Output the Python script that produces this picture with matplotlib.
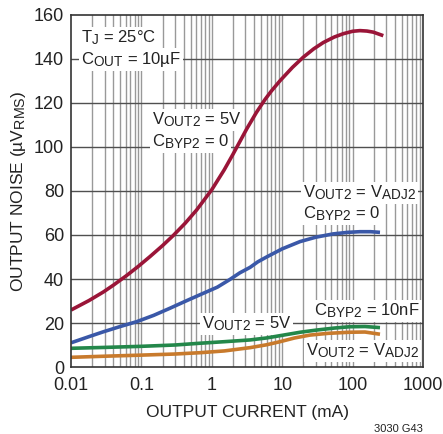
import matplotlib
matplotlib.use('Agg')
import matplotlib.pyplot as plt
import matplotlib._mathtext as mtext
import numpy as np

# bigger subscripts, closer to the datasheet lettering
mtext.SHRINK_FACTOR = 0.82

plt.rcParams['font.family'] = ['Liberation Sans', 'DejaVu Sans']
plt.rcParams['mathtext.fontset'] = 'custom'
plt.rcParams['mathtext.rm'] = 'Liberation Sans'
plt.rcParams['mathtext.it'] = 'Liberation Sans'

# values (current in mA, noise in uVrms)
i_red = [0.01, 0.018, 0.0288, 0.04, 0.0618, 0.09, 0.1325, 0.2, 0.284, 0.42, 0.61, 1.0, 1.5, 2.0,
         3.13, 4.3, 5.7, 7.0, 9.3, 14, 19.9, 28, 38.4, 55, 73.8, 100, 127, 160, 197, 273]
n_red = [25.9, 30.2, 34.1, 37.2, 41.6, 45.7, 50.2, 55.2, 59.8, 65.4, 71.4, 80.6, 89.6, 96.7,
         108.2, 115.7, 121.6, 125.4, 130.1, 136.2, 140.8, 144.6, 147.5, 150.0, 151.5, 152.6, 152.9, 152.7, 152.2, 150.6]

i_blue = [0.01, 0.018, 0.0288, 0.05, 0.0857, 0.15, 0.254, 0.45, 0.757, 1.2, 1.81, 2.5, 3.5, 4.5, 6.0,
          10, 17.9, 30, 53, 85, 127, 180, 245]
n_blue = [11.0, 13.8, 16.0, 18.4, 20.6, 23.5, 26.7, 30.3, 33.5, 36.3, 39.8, 42.8, 45.3, 47.8, 50.0,
          53.7, 57.0, 59.0, 60.5, 61.2, 61.5, 61.5, 61.2]

i_green = [0.01, 0.03, 0.1, 0.3, 0.68, 1.5, 3.5, 6, 10.4, 18, 31, 55, 91, 150, 245]
n_green = [8.5, 8.9, 9.4, 10.0, 10.8, 11.5, 12.3, 13.2, 14.5, 15.8, 16.8, 17.7, 18.3, 18.4, 17.9]

i_orange = [0.01, 0.03, 0.1, 0.3, 0.68, 1.5, 3.5, 6, 9.3, 15, 24.7, 45, 91, 150, 245]
n_orange = [4.4, 4.9, 5.4, 5.9, 6.5, 7.3, 8.8, 10.1, 11.5, 13.2, 14.5, 15.3, 15.8, 15.9, 14.9]

xticks = [0.01, 0.1, 1, 10, 100, 1000]
xtick_labels = ['0.01', '0.1', '1', '10', '100', '1000']
yticks = [0, 20, 40, 60, 80, 100, 120, 140, 160]

W, H = 443, 434
fig = plt.figure(figsize=(W/100, H/100), dpi=100)
ax = fig.add_axes([71/W, (H-367)/H, 352/W, 352/H])
ax.set_xscale('log')
ax.set_xlim(0.01, 1000)
ax.set_ylim(0, 160)

# grid
minor = [m*10.0**e for e in range(-2, 3) for m in range(2, 10)]
for x in minor + xticks[1:-1]:
    ax.axvline(x, color='#999999', lw=1.0, zorder=1)
for y in yticks[1:-1]:
    ax.axhline(y, color='#505050', lw=1.0, zorder=1)

kw = dict(lw=2.6, zorder=4, solid_capstyle='butt', solid_joinstyle='round')
ax.plot(i_red, n_red, color='#9a1538', **kw)
ax.plot(i_blue, n_blue, color='#3a58a8', **kw)
ax.plot(i_green, n_green, color='#23874a', **kw)
ax.plot(i_orange, n_orange, color='#c87a2c', **kw)

ax.set_xticks(xticks)
ax.set_xticklabels(xtick_labels)
ax.set_yticks(yticks)
ax.minorticks_off()
ax.tick_params(labelsize=13, length=0, colors='#222222')
ax.tick_params(axis='x', pad=7)
ax.tick_params(axis='y', pad=5)
for s in ax.spines.values():
    s.set_linewidth(1.2)
    s.set_color('#333333')
    s.set_zorder(5)

ax.set_xlabel('OUTPUT CURRENT (mA)', fontsize=12.5, labelpad=8, color='#222222')
ax.set_ylabel(r'OUTPUT NOISE (µV$_{\mathregular{RMS}}$)', fontsize=12.5, labelpad=4, color='#222222')

box = dict(facecolor='white', edgecolor='none', pad=1.5)
def lab(px, py, s):
    ax.text((px-71)/352, (367-py)/352, s, transform=ax.transAxes, fontsize=12,
            ha='left', va='center', bbox=box, zorder=3, color='#222222')

lab(81, 38, r'T$_{\mathregular{J}}$ = 25°C')
lab(81, 60, r'C$_{\mathregular{OUT}}$ = 10µF')
lab(152, 120, r'V$_{\mathregular{OUT2}}$ = 5V')
lab(152, 142, r'C$_{\mathregular{BYP2}}$ = 0')
lab(303, 193, r'V$_{\mathregular{OUT2}}$ = V$_{\mathregular{ADJ2}}$')
lab(303, 214, r'C$_{\mathregular{BYP2}}$ = 0')
lab(314, 311, r'C$_{\mathregular{BYP2}}$ = 10nF')
lab(202, 324, r'V$_{\mathregular{OUT2}}$ = 5V')
lab(306, 351, r'V$_{\mathregular{OUT2}}$ = V$_{\mathregular{ADJ2}}$')

fig.text(423/W, 1-429/H, '3030 G43', fontsize=8, ha='right', va='center', color='#222222')

fig.savefig('out.png', dpi=100)
